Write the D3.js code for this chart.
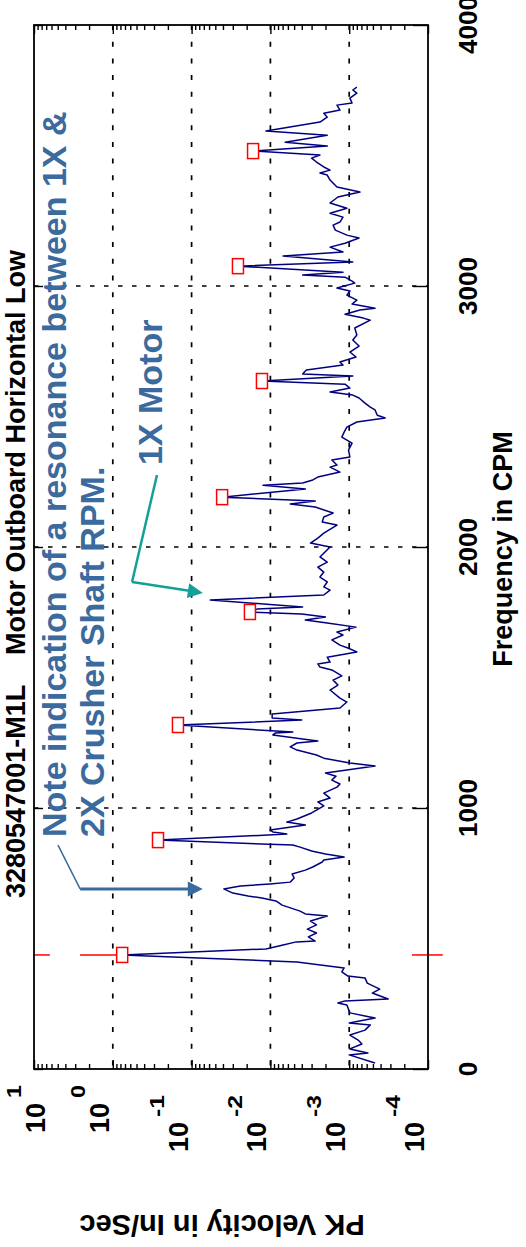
<!DOCTYPE html>
<html>
<head>
<meta charset="utf-8">
<script src="https://cdn.jsdelivr.net/npm/d3@7"></script>
<style>
  body { margin: 0; background: #fff; }
  text { font-family: "Liberation Sans", Arial, sans-serif; font-weight: bold; }
</style>
</head>
<body>
<svg id="chart" width="526" height="1247"></svg>
<script>
// spectrum: frequency in CPM, PK velocity in in/sec
const freqs = [23,54,61,77,96,111,130,149,169,176,
  195,215,245,253,261,268,291,306,329,349,
  356,372,387,410,437,460,475,487,490,506,
  521,536,552,567,586,594,605,628,644,655,
  663,674,690,701,709,716,732,747,762,774,
  793,801,812,824,835,850,858,877,900,908,
  916,935,946,958,981,992,1008,1023,1038,1057,
  1080,1092,1107,1122,1134,1161,1172,1191,1203,1222,
  1234,1249,1257,1264,1280,1287,1291,1318,1337,1345,
  1360,1383,1406,1421,1452,1471,1490,1506,1529,1540,
  1552,1559,1578,1598,1613,1624,1644,1663,1674,1693,
  1709,1720,1732,1743,1751,1762,1770,1797,1816,1835,
  1847,1866,1885,1904,1923,1942,1962,2000,2015,2034,
  2053,2084,2096,2115,2130,2153,2165,2176,2191,2222,
  2237,2245,2257,2268,2287,2306,2314,2333,2345,2371,
  2398,2421,2440,2459,2479,2494,2505,2525,2536,2551,
  2571,2582,2594,2609,2624,2636,2655,2663,2678,2697,
  2709,2728,2747,2770,2793,2812,2839,2869,2877,2892,
  2908,2915,2931,2946,2965,2981,2992,3011,3019,3034,
  3042,3053,3076,3092,3115,3130,3149,3164,3184,3195,
  3214,3233,3245,3264,3279,3298,3318,3341,3360,3379,
  3406,3425,3433,3444,3456,3475,3490,3502,3517,3536,
  3551,3578,3594,3628,3647,3662,3674,3693,3701,3720,
  3739,3751,3762];

const velocities = [0.00047,0.0010,0.00058,0.00098,0.00069,0.00077,0.00098,0.00063,0.00054,0.0010,
  0.00047,0.00098,0.00107,0.00139,0.00113,0.00032,0.00051,0.00041,0.00059,0.00063,
  0.00104,0.00124,0.00116,0.0046,0.76,0.0114,0.0069,0.0047,0.0027,0.0033,
  0.0026,0.0034,0.0026,0.0031,0.0019,0.0036,0.0042,0.0071,0.0085,0.0128,
  0.0192,0.030,0.039,0.024,0.0101,0.0056,0.0050,0.0053,0.0036,0.0029,
  0.0022,0.0021,0.00116,0.0020,0.0030,0.0042,0.0052,0.267,0.0062,0.0093,
  0.0101,0.0036,0.0062,0.0046,0.0030,0.0026,0.0021,0.0025,0.00175,0.0021,
  0.00143,0.00131,0.00166,0.00147,0.0020,0.00047,0.00098,0.0021,0.0026,0.0046,
  0.0056,0.0046,0.0025,0.0039,0.0093,0.0087,0.0052,0.149,0.0040,0.0095,
  0.0095,0.00131,0.00107,0.00131,0.00175,0.00139,0.0016,0.00124,0.00166,0.00235,
  0.0025,0.00175,0.0019,0.0008,0.00104,0.00131,0.00166,0.0012,0.00143,0.00082,
  0.0019,0.0036,0.0020,0.0040,0.0182,0.0148,0.0039,0.058,0.0021,0.00175,
  0.0021,0.0019,0.00235,0.0021,0.0025,0.0019,0.00235,0.00175,0.0031,0.0025,
  0.0021,0.00143,0.0022,0.0021,0.0016,0.0027,0.0056,0.0027,0.041,0.0036,
  0.0124,0.0039,0.0029,0.0025,0.00131,0.00175,0.00143,0.00166,0.00098,0.00102,
  0.00092,0.00124,0.00116,0.00107,0.0008,0.00035,0.00044,0.00047,0.00054,0.00063,
  0.00075,0.0009,0.00175,0.00098,0.00113,0.0128,0.0009,0.0039,0.0035,0.0012,
  0.00131,0.00082,0.00098,0.00075,0.0009,0.0008,0.00085,0.00054,0.00066,0.00113,
  0.00073,0.00047,0.00092,0.0008,0.00107,0.00098,0.00143,0.00085,0.00092,0.00113,
  0.0039,0.0012,0.0258,0.0009,0.0069,0.0012,0.00175,0.00113,0.00075,0.00107,
  0.0015,0.0016,0.00131,0.0012,0.00175,0.00107,0.00175,0.00139,0.00073,0.00143,
  0.00175,0.0019,0.00235,0.00175,0.0021,0.0026,0.0030,0.00235,0.0166,0.0019,
  0.0065,0.0019,0.0114,0.00235,0.0019,0.0021,0.00131,0.00143,0.00092,0.00098,
  0.0008,0.0009,0.0008];

// harmonic markers (red boxes)
const harmonicFreqs = [437, 877, 1318, 1751, 2191, 2636, 3076, 3517];
const harmonicVels = [0.76, 0.267, 0.149, 0.0182, 0.041, 0.0128, 0.0258, 0.0166];

// red cursor at the first harmonic, drawn in three pieces
const cursorFreq = 437;
const cursorPieces = [[10, 6.3], [2.6, 0.76], [0.00016, 0.000065]];

const freqTicks = [0, 1000, 2000, 3000, 4000];
const decades = [10, 1, 0.1, 0.01, 0.001, 0.0001];
const exponents = ["1", "0", "-1", "-2", "-3", "-4"];

// annotations, placed in data space (freq, velocity)
const noteLines = ["Note indication of a resonance between 1X &", "2X Crusher Shaft RPM."];
const noteLineVel = [3.9, 1.29];
const noteFreq = 889;
const noteArrowFreq = [858, 690, 690];
const noteArrowVel = [4.96, 2.6, 0.072];
const motorLabel = "1X Motor";
const motorFreq = 2314, motorVel = 0.238;
const motorArrowFreq = [2276, 1866, 1824];
const motorArrowVel = [0.275, 0.57, 0.072];

const noteBlue = "#3a6a9e";
const teal = "#14a096";

const svg = d3.select("#chart");

// the chart is turned a quarter turn: frequency runs bottom -> top, velocity left -> right
const x = d3.scaleLog().domain([10, 1e-4]).range([34, 428]);
const y = d3.scaleLinear().domain([0, 4000]).range([1069, 25]);

// grid
svg.append("g").selectAll("line").data(decades.slice(1, 5)).join("line")
  .attr("x1", d => x(d)).attr("x2", d => x(d))
  .attr("y1", y(4000)).attr("y2", y(0))
  .attr("stroke", "#000").attr("stroke-width", 1.7)
  .attr("stroke-dasharray", "5,11.7");

svg.append("g").selectAll("line").data(freqTicks.slice(1, 4)).join("line")
  .attr("x1", x(10)).attr("x2", x(1e-4))
  .attr("y1", d => y(d)).attr("y2", d => y(d))
  .attr("stroke", "#000").attr("stroke-width", 1.7)
  .attr("stroke-dasharray", "4.5,9.5");

// ticks on the frame
const minor = x.ticks().filter(d => !decades.includes(d));
function tickAxis(axis, tx, ty) {
  const g = svg.append("g").attr("transform", `translate(${tx},${ty})`).call(axis);
  g.select(".domain").remove();
  g.selectAll("line").attr("stroke", "#000").attr("stroke-width", 1.4);
}
tickAxis(d3.axisTop(x).tickValues(minor).tickSize(5).tickFormat(""), 0, y(0));
tickAxis(d3.axisTop(x).tickValues(decades).tickSize(9).tickFormat(""), 0, y(0));
tickAxis(d3.axisBottom(x).tickValues(minor).tickSize(5).tickFormat(""), 0, y(4000));
tickAxis(d3.axisBottom(x).tickValues(decades).tickSize(9).tickFormat(""), 0, y(4000));
tickAxis(d3.axisLeft(y).tickValues(freqTicks).tickSize(15).tickFormat(""), x(1e-4), 0);
tickAxis(d3.axisRight(y).tickValues(freqTicks).tickSize(9).tickFormat(""), x(10), 0);

// red cursor
svg.append("g").selectAll("line").data(cursorPieces).join("line")
  .attr("x1", d => x(d[0])).attr("x2", d => x(d[1]))
  .attr("y1", y(cursorFreq)).attr("y2", y(cursorFreq))
  .attr("stroke", "#ff0000").attr("stroke-width", 1.5);

// spectrum
const spectrum = d3.zip(freqs, velocities);
svg.append("path").datum(spectrum)
  .attr("fill", "none").attr("stroke", "#000080").attr("stroke-width", 1.5)
  .attr("stroke-linejoin", "round")
  .attr("d", d3.line().x(d => x(d[1])).y(d => y(d[0])));

// markers
svg.append("g").selectAll("rect").data(d3.zip(harmonicFreqs, harmonicVels)).join("rect")
  .attr("x", d => x(d[1]) - 5.5).attr("y", d => y(d[0]) - 7.5)
  .attr("width", 11).attr("height", 15)
  .attr("fill", "#fff").attr("stroke", "#ff0000").attr("stroke-width", 1.5);

// frame
svg.append("rect")
  .attr("x", x(10)).attr("y", y(4000))
  .attr("width", x(1e-4) - x(10)).attr("height", y(0) - y(4000))
  .attr("fill", "none").attr("stroke", "#000").attr("stroke-width", 1.8);

// frequency tick labels
svg.append("g").selectAll("text").data(freqTicks).join("text")
  .attr("transform", d => `translate(477,${y(d)}) rotate(-90)`)
  .attr("text-anchor", "middle").attr("font-size", 26)
  .text(d => d);

// velocity tick labels 10^n
const vlab = svg.append("g").selectAll("g").data(d3.zip(decades, exponents)).join("g")
  .attr("transform", d => {
    const bx = Math.max(x(d[0]) - 4, 45);
    const by = d[1].startsWith("-") ? 1152 : 1133;
    return `translate(${bx},${by}) rotate(-90)`;
  });
vlab.append("text").attr("font-size", 27).text("10");
vlab.append("text").attr("font-size", 20)
  .attr("x", 35).attr("y", -24)
  .attr("textLength", d => d[1].length > 1 ? 22 : 13)
  .attr("lengthAdjust", "spacingAndGlyphs")
  .text(d => d[1]);

// axis titles and chart title
svg.append("text").attr("transform", "translate(512,549) rotate(-90)")
  .attr("text-anchor", "middle").attr("font-size", 27).text("Frequency in CPM");
svg.append("text").attr("transform", "translate(222,1215) rotate(180)")
  .attr("text-anchor", "middle").attr("font-size", 29).text("PK Velocity in In/Sec");
svg.append("text").attr("transform", "translate(25,898) rotate(-90)")
  .attr("font-size", 27).text("3280547001-M1L");
svg.append("text").attr("transform", "translate(25,655) rotate(-90)")
  .attr("font-size", 27).text("Motor Outboard Horizontal Low");

// annotations
svg.append("g").selectAll("text").data(d3.zip(noteLines, noteLineVel)).join("text")
  .attr("transform", d => `translate(${x(d[1])},${y(noteFreq)}) rotate(-90)`)
  .attr("font-size", 34).attr("fill", noteBlue)
  .text(d => d[0]);
svg.append("text")
  .attr("transform", `translate(${x(motorVel)},${y(motorFreq)}) rotate(-90)`)
  .attr("font-size", 34).attr("fill", noteBlue).text(motorLabel);

function arrow(fs, vs, color, widths) {
  const pts = d3.zip(fs, vs).map(d => [x(d[1]), y(d[0])]);
  for (let i = 0; i < pts.length - 1; i++) {
    const a = pts[i], b = pts[i + 1];
    let end = b;
    if (i === pts.length - 2) {
      const len = Math.hypot(b[0] - a[0], b[1] - a[1]);
      end = [b[0] - (b[0] - a[0]) / len * 12, b[1] - (b[1] - a[1]) / len * 12];
    }
    svg.append("line").attr("x1", a[0]).attr("y1", a[1]).attr("x2", end[0]).attr("y2", end[1])
      .attr("stroke", color).attr("stroke-width", widths[i]);
  }
  const a = pts[pts.length - 2], b = pts[pts.length - 1];
  const len = Math.hypot(b[0] - a[0], b[1] - a[1]);
  const ux = (b[0] - a[0]) / len, uy = (b[1] - a[1]) / len;
  const bx = b[0] - ux * 15, by = b[1] - uy * 15;
  svg.append("polygon")
    .attr("points", [[b[0], b[1]], [bx - uy * 7.5, by + ux * 7.5], [bx + uy * 7.5, by - ux * 7.5]].join(" "))
    .attr("fill", color);
}
arrow(noteArrowFreq, noteArrowVel, noteBlue, [1.5, 3]);
arrow(motorArrowFreq, motorArrowVel, teal, [2.5, 2.5]);
</script>
</body>
</html>
